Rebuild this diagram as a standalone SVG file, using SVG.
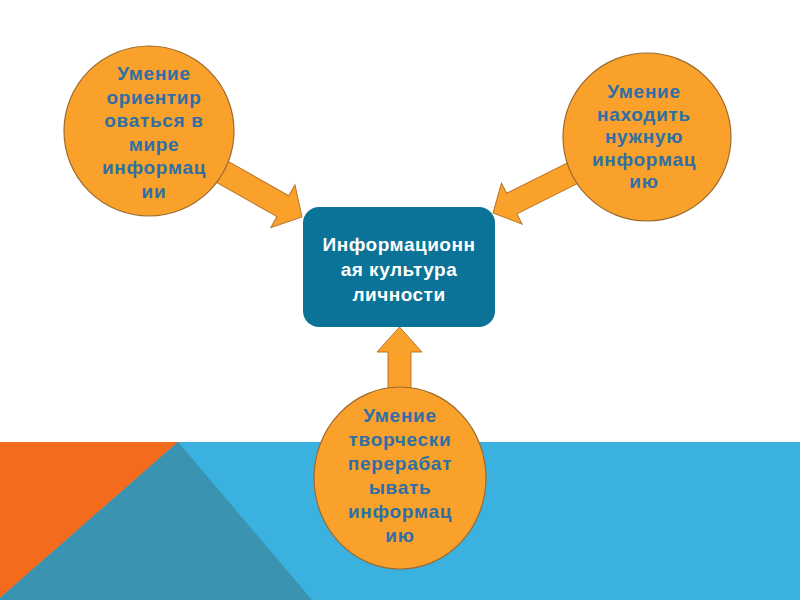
<svg xmlns="http://www.w3.org/2000/svg" width="800" height="600" viewBox="0 0 800 600">
  <style>
    .arrow { fill: #F9A12A; stroke: #B9772A; stroke-width: 1; }
    .skill { fill: #F9A12A; stroke: #9C6A2E; stroke-width: 1.2; }
    .skill-text { font-family: "Liberation Sans", Arial, sans-serif; font-weight: bold; font-size: 19px; fill: #2E6FA6; text-anchor: middle; letter-spacing: 0.7px; }
    .core-text { font-family: "Liberation Sans", Arial, sans-serif; font-weight: bold; font-size: 19px; fill: #FFFFFF; text-anchor: middle; letter-spacing: 0.5px; }
  </style>
  <rect x="0" y="0" width="800" height="600" fill="#FFFFFF"/>
  <g id="background">
    <rect x="0" y="442" width="800" height="158" fill="#3AB1DF"/>
    <polygon points="0,442 178,442 0,598" fill="#F46B1E"/>
    <polygon points="178,442 312,600 0,600 0,598" fill="#3A93B0"/>
  </g>
  <g id="connectors">
    <path class="arrow" d="M-112,-12 L-22,-12 L-22,-24.5 L0,0 L-22,24.5 L-22,12 L-112,12 Z" transform="translate(302,217) rotate(29.5)"/>
    <path class="arrow" d="M-112,-11.5 L-21,-11.5 L-21,-23 L0,0 L-21,23 L-21,11.5 L-112,11.5 Z" transform="translate(493,213) rotate(153.4)"/>
    <path class="arrow" d="M388,395 L388,352 L377,352 L399.5,327 L422,352 L411,352 L411,395 Z"/>
  </g>
  <g id="core">
    <rect x="303" y="207" width="192" height="120" rx="16" ry="16" fill="#0B7397"/>
    <text class="core-text" x="399" y="251">Информационн</text>
    <text class="core-text" x="399" y="276">ая культура</text>
    <text class="core-text" x="399" y="301">личности</text>
  </g>
  <g id="skill-orient">
    <circle class="skill" cx="149" cy="131" r="85"/>
    <text class="skill-text" x="154" y="80">Умение</text>
    <text class="skill-text" x="154" y="103.6">ориентир</text>
    <text class="skill-text" x="154" y="127.2">оваться в</text>
    <text class="skill-text" x="154" y="150.8">мире</text>
    <text class="skill-text" x="154" y="174.4">информац</text>
    <text class="skill-text" x="154" y="198">ии</text>
  </g>
  <g id="skill-find">
    <circle class="skill" cx="647" cy="137" r="84"/>
    <text class="skill-text" x="644" y="98">Умение</text>
    <text class="skill-text" x="644" y="120.5">находить</text>
    <text class="skill-text" x="644" y="143">нужную</text>
    <text class="skill-text" x="644" y="165.5">информац</text>
    <text class="skill-text" x="644" y="188">ию</text>
  </g>
  <g id="skill-process">
    <ellipse class="skill" cx="400" cy="478" rx="86" ry="91"/>
    <text class="skill-text" x="400" y="422">Умение</text>
    <text class="skill-text" x="400" y="446">творчески</text>
    <text class="skill-text" x="400" y="470">перерабат</text>
    <text class="skill-text" x="400" y="494">ывать</text>
    <text class="skill-text" x="400" y="518">информац</text>
    <text class="skill-text" x="400" y="542">ию</text>
  </g>
</svg>
